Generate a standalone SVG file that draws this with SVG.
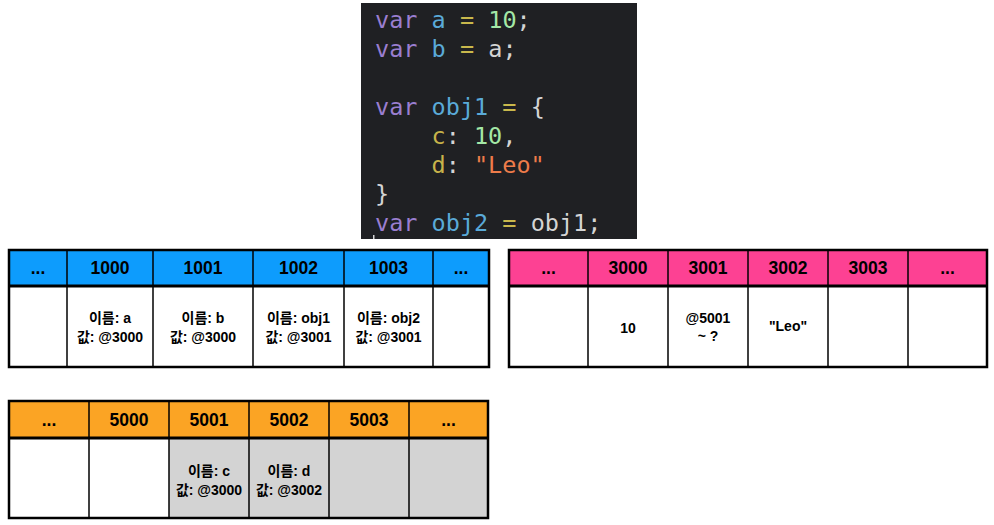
<svg xmlns="http://www.w3.org/2000/svg" width="994" height="525" viewBox="0 0 994 525">
<style>
.code{font-family:"DejaVu Sans Mono","Liberation Mono",monospace;font-size:23.5px;}
.kw{fill:#9a7ed0}.id{fill:#5aaad8}.op{fill:#c9b84c}.num{fill:#a4e8a6}.pn{fill:#d4d4d4}.prop{fill:#c7b34a}.str{fill:#ee7c4a}
.hd{font-family:"Liberation Sans","Noto Sans CJK KR",Arial,sans-serif;font-weight:bold;font-size:17.5px;fill:#000;text-anchor:middle;}
.bd{font-family:"Liberation Sans","Noto Sans CJK KR",Arial,sans-serif;font-weight:bold;font-size:14px;fill:#000;text-anchor:middle;}
.outer{fill:none;stroke:#000;stroke-width:2.5;}
.hline{stroke:#000;stroke-width:3;}
.vline{stroke:#000;stroke-width:1.5;}
</style>
<g id="code">
<rect x="361" y="3" width="276" height="236" fill="#1f2023"/>
<rect x="373" y="235" width="1.5" height="4" fill="#d4d4d4"/>
<text class="code" xml:space="preserve">
<tspan x="375" y="28"><tspan class="kw">var</tspan> <tspan class="id">a</tspan> <tspan class="op">=</tspan> <tspan class="num">10</tspan><tspan class="pn">;</tspan></tspan>
<tspan x="375" y="57"><tspan class="kw">var</tspan> <tspan class="id">b</tspan> <tspan class="op">=</tspan> <tspan class="pn">a;</tspan></tspan>
<tspan x="375" y="115"><tspan class="kw">var</tspan> <tspan class="id">obj1</tspan> <tspan class="op">=</tspan> <tspan class="pn">{</tspan></tspan>
<tspan x="431.5" y="144"><tspan class="prop">c</tspan><tspan class="pn">:</tspan> <tspan class="num">10</tspan><tspan class="pn">,</tspan></tspan>
<tspan x="431.5" y="173"><tspan class="prop">d</tspan><tspan class="pn">:</tspan> <tspan class="str">"Leo"</tspan></tspan>
<tspan x="375" y="202" class="pn">}</tspan>
<tspan x="375" y="231"><tspan class="kw">var</tspan> <tspan class="id">obj2</tspan> <tspan class="op">=</tspan> <tspan class="pn">obj1;</tspan></tspan>
</text>
</g>

<g id="stack">
<rect x="9" y="250" width="480" height="36" fill="#0d9cfd"/>
<rect x="9" y="286" width="480" height="81" fill="#fff"/>
<g class="vline">
<line x1="67" y1="250" x2="67" y2="367"/><line x1="153" y1="250" x2="153" y2="367"/><line x1="253" y1="250" x2="253" y2="367"/><line x1="344" y1="250" x2="344" y2="367"/><line x1="433" y1="250" x2="433" y2="367"/>
</g>
<line class="hline" x1="9" y1="286" x2="489" y2="286"/>
<rect class="outer" x="9" y="250" width="480" height="117"/>
<text class="hd" x="38" y="274">...</text>
<text class="hd" x="110" y="274">1000</text>
<text class="hd" x="203" y="274">1001</text>
<text class="hd" x="298.5" y="274">1002</text>
<text class="hd" x="388.5" y="274">1003</text>
<text class="hd" x="461" y="274">...</text>
<text class="bd" x="110" y="323">이름: a</text><text class="bd" x="110" y="342">값: @3000</text>
<text class="bd" x="203" y="323">이름: b</text><text class="bd" x="203" y="342">값: @3000</text>
<text class="bd" x="298.5" y="323">이름: obj1</text><text class="bd" x="298.5" y="342">값: @3001</text>
<text class="bd" x="388.5" y="323">이름: obj2</text><text class="bd" x="388.5" y="342">값: @3001</text>
</g>

<g id="heap">
<rect x="509" y="250" width="478" height="36" fill="#fd4193"/>
<rect x="509" y="286" width="478" height="81" fill="#fff"/>
<g class="vline">
<line x1="588" y1="250" x2="588" y2="367"/><line x1="668" y1="250" x2="668" y2="367"/><line x1="748" y1="250" x2="748" y2="367"/><line x1="828" y1="250" x2="828" y2="367"/><line x1="908" y1="250" x2="908" y2="367"/>
</g>
<line class="hline" x1="509" y1="286" x2="987" y2="286"/>
<rect class="outer" x="509" y="250" width="478" height="117"/>
<text class="hd" x="548.5" y="274">...</text>
<text class="hd" x="628" y="274">3000</text>
<text class="hd" x="708" y="274">3001</text>
<text class="hd" x="788" y="274">3002</text>
<text class="hd" x="868" y="274">3003</text>
<text class="hd" x="947.5" y="274">...</text>
<text class="bd" x="628" y="333">10</text>
<text class="bd" x="708" y="323">@5001</text><text class="bd" x="708" y="341">~ ?</text>
<text class="bd" x="788" y="331">"Leo"</text>
</g>

<g id="object">
<rect x="9" y="401" width="479" height="37" fill="#fba424"/>
<rect x="9" y="438" width="479" height="80" fill="#fff"/>
<rect x="169" y="438" width="319" height="80" fill="#d3d3d3"/>
<g class="vline">
<line x1="89" y1="401" x2="89" y2="518"/><line x1="169" y1="401" x2="169" y2="518"/><line x1="249" y1="401" x2="249" y2="518"/><line x1="329" y1="401" x2="329" y2="518"/><line x1="409" y1="401" x2="409" y2="518"/>
</g>
<line class="hline" x1="9" y1="438" x2="488" y2="438"/>
<rect class="outer" x="9" y="401" width="479" height="117"/>
<text class="hd" x="49" y="426">...</text>
<text class="hd" x="129" y="426">5000</text>
<text class="hd" x="209" y="426">5001</text>
<text class="hd" x="289" y="426">5002</text>
<text class="hd" x="369" y="426">5003</text>
<text class="hd" x="448.5" y="426">...</text>
<text class="bd" x="209" y="476">이름: c</text><text class="bd" x="209" y="495">값: @3000</text>
<text class="bd" x="289" y="476">이름: d</text><text class="bd" x="289" y="495">값: @3002</text>
</g>
</svg>
